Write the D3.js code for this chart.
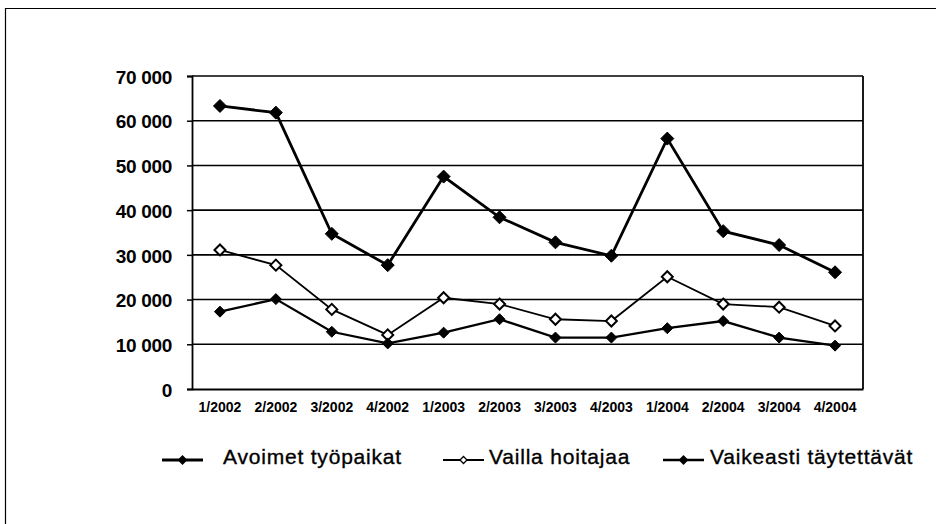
<!DOCTYPE html>
<html><head><meta charset="utf-8">
<script src="https://cdn.jsdelivr.net/npm/d3@7"></script>
<style>
html,body{margin:0;padding:0;background:#fff;}
text{font-family:"Liberation Sans",Arial,sans-serif;fill:#000;}
</style></head>
<body>
<svg id="c" width="936" height="524"></svg>
<script>
const categories = ["1/2002","2/2002","3/2002","4/2002","1/2003","2/2003","3/2003","4/2003","1/2004","2/2004","3/2004","4/2004"];
const avoimet = [63300,61800,34700,27700,47500,38400,32800,29800,56000,35300,32200,26100];
const vaillaHoitajaa = [31100,27700,17800,12100,20400,19000,15600,15200,25100,19000,18300,14100];
const vaikeasti = [17300,20100,12800,10200,12600,15600,11500,11500,13600,15200,11500,9700];
const yTicks = [0,10000,20000,30000,40000,50000,60000,70000];
const seriesNames = ["Avoimet työpaikat","Vailla hoitajaa","Vaikeasti täytettävät"];

const svg = d3.select("#c");
const m = {left:192, right:863, top:76, bottom:389};

// outer frame
svg.append("line").attr("x1",5.5).attr("x2",5.5).attr("y1",8).attr("y2",524).attr("stroke","#000").attr("stroke-width",1.2);
svg.append("line").attr("x1",5).attr("x2",936).attr("y1",8.5).attr("y2",8.5).attr("stroke","#000").attr("stroke-width",1.2);

const x = d3.scaleBand().domain(categories).range([m.left,m.right]);
const y = d3.scaleLinear().domain([0,70000]).range([m.bottom,m.top]);

// gridlines
svg.append("g").selectAll("line").data(yTicks.filter(d=>d>0)).join("line")
  .attr("x1",m.left).attr("x2",m.right).attr("y1",d=>y(d)).attr("y2",d=>y(d))
  .attr("stroke","#000").attr("stroke-width",1.6);
svg.append("line").attr("x1",m.right).attr("x2",m.right).attr("y1",m.top).attr("y2",m.bottom).attr("stroke","#000").attr("stroke-width",1.8);

// y axis
const fmt = d => d===0 ? "0" : d3.format(",")(d).replace(/,/g," ");
const yAxis = svg.append("g").attr("transform",`translate(${m.left},0)`)
  .call(d3.axisLeft(y).tickValues(yTicks).tickFormat(fmt).tickSize(5).tickPadding(15));
yAxis.select(".domain").attr("stroke","#000").attr("stroke-width",1.8);
yAxis.selectAll(".tick line").attr("stroke","#000").attr("stroke-width",1.5);
yAxis.selectAll("text").attr("font-size",19).attr("font-weight","bold").attr("dy","0.38em").attr("letter-spacing","-0.3px");

// x axis
const xAxis = svg.append("g").attr("transform",`translate(0,${m.bottom})`)
  .call(d3.axisBottom(x).tickSize(0).tickPadding(13));
xAxis.select(".domain").attr("stroke","#000").attr("stroke-width",1.8);
xAxis.selectAll("text").attr("font-size",14).attr("font-weight","bold");

// lines
const line = d3.line().x((d,i)=>x(categories[i])+x.bandwidth()/2).y(d=>y(d));
const diamond = s => `M0,${-s}L${s},0L0,${s}L${-s},0Z`;

const series = [
  {name:seriesNames[0], values:avoimet, lw:2.8, size:6.5, fill:"#000"},
  {name:seriesNames[1], values:vaillaHoitajaa, lw:1.8, size:5.5, fill:"#fff"},
  {name:seriesNames[2], values:vaikeasti, lw:2.3, size:5.5, fill:"#000"}
];
series.forEach(s=>{
  svg.append("path").attr("d",line(s.values)).attr("fill","none").attr("stroke","#000").attr("stroke-width",s.lw);
  svg.append("g").selectAll("path").data(s.values).join("path")
    .attr("transform",(d,i)=>`translate(${x(categories[i])+x.bandwidth()/2},${y(d)})`)
    .attr("d",diamond(s.size)).attr("fill",s.fill).attr("stroke","#000").attr("stroke-width",s.fill==="#fff"?2:1);
});

// legend
const legendPos = [{lx:162, tx:223},{lx:443, tx:489},{lx:663, tx:710}];
const ly = 460;
series.forEach((s,i)=>{
  const p = legendPos[i];
  const g = svg.append("g");
  g.append("line").attr("x1",p.lx).attr("x2",p.lx+41).attr("y1",ly).attr("y2",ly).attr("stroke","#000").attr("stroke-width",s.lw);
  g.append("path").attr("transform",`translate(${p.lx+20.5},${ly})`).attr("d",diamond(s.fill==="#fff"?3.5:4)).attr("fill",s.fill).attr("stroke","#000").attr("stroke-width",1.3);
  g.append("text").attr("x",p.tx).attr("y",464).attr("font-size",21).attr("letter-spacing","0.8px")
    .attr("stroke","#000").attr("stroke-width",0.35).text(s.name);
});
</script>
</body></html>
